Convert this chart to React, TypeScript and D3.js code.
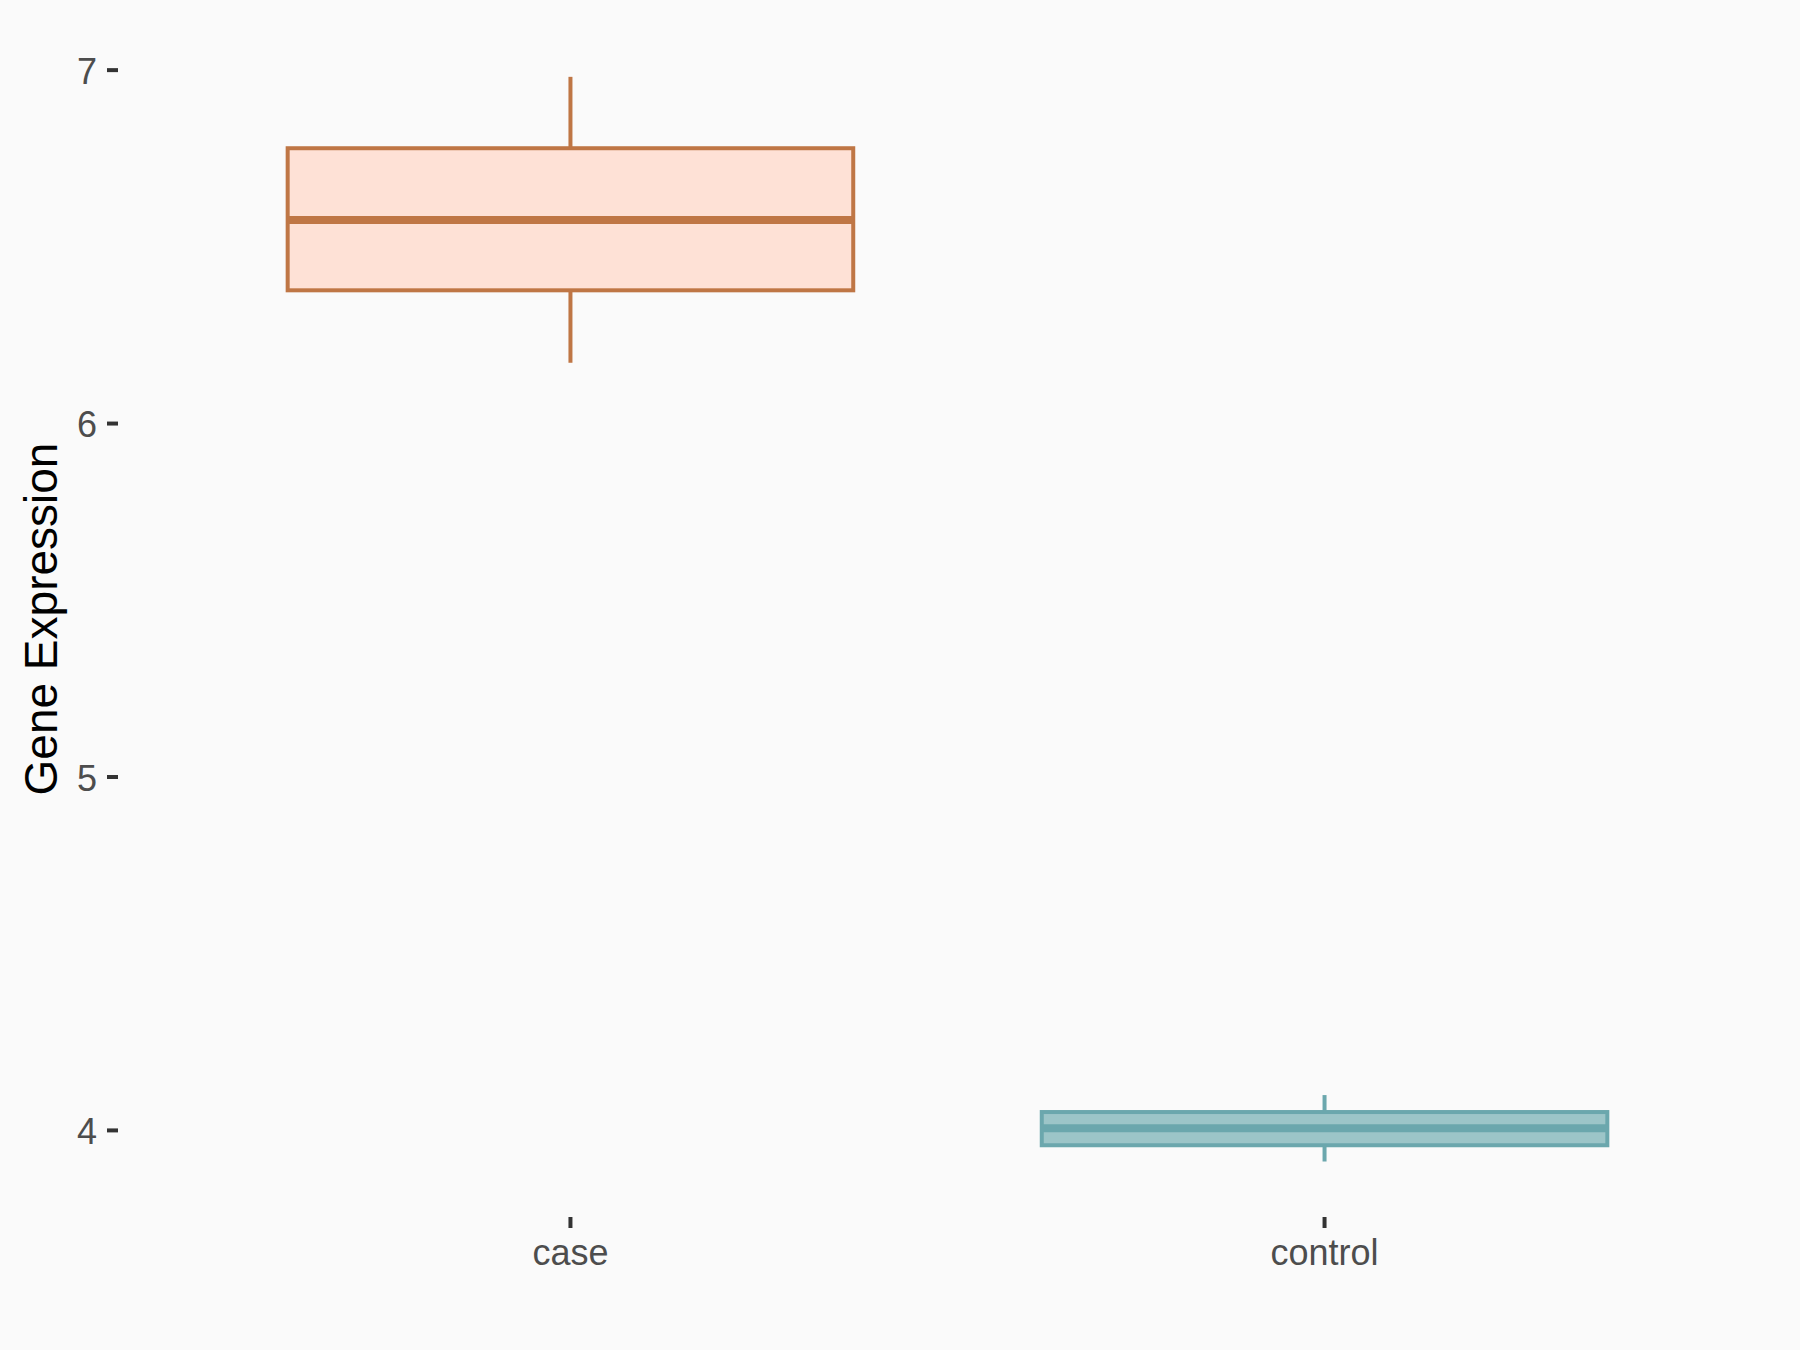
import React from "react";
import * as d3 from "d3";

const categories = ["case", "control"];
const whiskerLow = [6.172, 3.912];
const q1 = [6.377, 3.958];
const median = [6.576, 4.006];
const q3 = [6.779, 4.052];
const whiskerHigh = [6.981, 4.1];
const yTicks = [4, 5, 6, 7];
const strokeColors = ["#BF7645", "#6BA7AD"];
const fillColors = ["#FEE1D6", "#9CC5C8"];

const W = 1800;
const H = 1350;
const panel = { left: 118, right: 1777, top: 21, bottom: 1217 };
const font = "'Liberation Sans', Arial, Helvetica, sans-serif";

export default function App() {
  const x = d3
    .scalePoint<string>()
    .domain(categories)
    .range([panel.left, panel.right])
    .padding(0.6);
  const y = d3
    .scaleLinear()
    .domain([3.755, 7.139])
    .range([panel.bottom, panel.top]);
  const halfW = x.step() * 0.375;

  return (
    <svg
      width={W}
      height={H}
      style={{ position: "absolute", left: 0, top: 0, display: "block" }}
    >
      <rect x={0} y={0} width={W} height={H} fill="#FAFAFA" />
      {categories.map((c, i) => {
        const cx = x(c) as number;
        return (
          <g key={c}>
            <line
              x1={cx}
              x2={cx}
              y1={y(q3[i])}
              y2={y(whiskerHigh[i])}
              stroke={strokeColors[i]}
              strokeWidth={4}
            />
            <line
              x1={cx}
              x2={cx}
              y1={y(q1[i])}
              y2={y(whiskerLow[i])}
              stroke={strokeColors[i]}
              strokeWidth={4}
            />
            <rect
              x={cx - halfW}
              y={y(q3[i])}
              width={halfW * 2}
              height={y(q1[i]) - y(q3[i])}
              fill={fillColors[i]}
              stroke={strokeColors[i]}
              strokeWidth={4}
            />
            <line
              x1={cx - halfW}
              x2={cx + halfW}
              y1={y(median[i])}
              y2={y(median[i])}
              stroke={strokeColors[i]}
              strokeWidth={8}
            />
          </g>
        );
      })}
      {yTicks.map((t) => (
        <g key={t}>
          <line
            x1={panel.left - 11}
            x2={panel.left}
            y1={y(t)}
            y2={y(t)}
            stroke="#333333"
            strokeWidth={4}
          />
          <text
            x={97}
            y={y(t)}
            dy="0.38em"
            textAnchor="end"
            fontFamily={font}
            fontSize={36}
            fill="#4D4D4D"
          >
            {t}
          </text>
        </g>
      ))}
      {categories.map((c) => (
        <g key={c}>
          <line
            x1={x(c) as number}
            x2={x(c) as number}
            y1={panel.bottom}
            y2={panel.bottom + 11}
            stroke="#333333"
            strokeWidth={4}
          />
          <text
            x={x(c) as number}
            y={1265}
            textAnchor="middle"
            fontFamily={font}
            fontSize={36}
            fill="#4D4D4D"
          >
            {c}
          </text>
        </g>
      ))}
      <text
        transform={`translate(57,${(panel.top + panel.bottom) / 2}) rotate(-90)`}
        textAnchor="middle"
        fontFamily={font}
        fontSize={46}
        fill="#000000"
      >
        Gene Expression
      </text>
    </svg>
  );
}
